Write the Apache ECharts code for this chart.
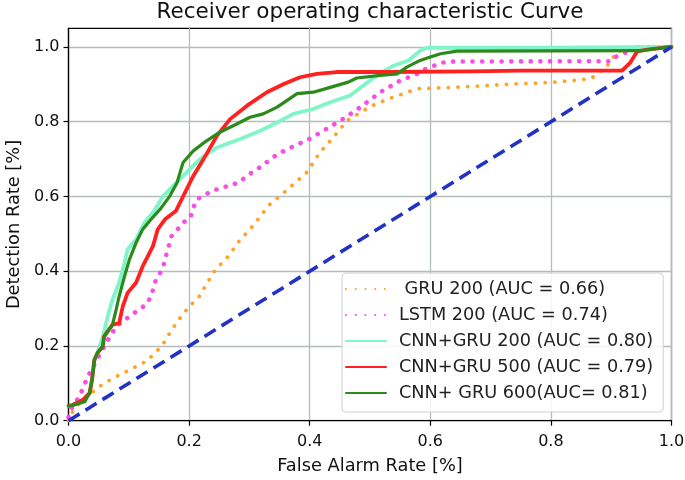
<!DOCTYPE html>
<html>
<head>
<meta charset="utf-8">
<script src="https://cdn.jsdelivr.net/npm/echarts@6/dist/echarts.min.js"></script>
<style>html,body{margin:0;padding:0;background:#fff;}#c{width:685px;height:480px;}</style>
</head>
<body>
<div id="c"></div>
<script>
const titleText = 'Receiver operating characteristic Curve';
const xName = 'False Alarm Rate [%]';
const yName = 'Detection Rate [%]';
const tickValues = [0, 0.2, 0.4, 0.6, 0.8, 1.0];
const seriesNames = [' GRU 200 (AUC = 0.66)', 'LSTM 200 (AUC = 0.74)', 'CNN+GRU 200 (AUC = 0.80)', 'CNN+GRU 500 (AUC = 0.79)', 'CNN+ GRU 600(AUC= 0.81)'];

const gru200 = [[0,0],[0.005,0.02],[0.02,0.05],[0.05,0.09],[0.075,0.115],[0.1,0.135],[0.13,0.16],[0.155,0.2],[0.17,0.24],[0.185,0.275],[0.2,0.305],[0.217,0.333],[0.243,0.403],[0.265,0.44],[0.285,0.485],[0.3,0.51],[0.334,0.579],[0.357,0.61],[0.395,0.664],[0.417,0.718],[0.437,0.754],[0.462,0.803],[0.503,0.843],[0.534,0.863],[0.578,0.888],[0.64,0.892],[0.74,0.901],[0.8,0.905],[0.866,0.915],[0.877,0.928],[0.9,0.96],[0.907,0.985],[0.935,1.0],[1,1]];
const lstm200 = [[0,0.01],[0.004,0.03],[0.018,0.064],[0.032,0.118],[0.05,0.172],[0.065,0.215],[0.079,0.252],[0.101,0.279],[0.129,0.311],[0.137,0.333],[0.145,0.378],[0.156,0.405],[0.163,0.449],[0.171,0.494],[0.182,0.514],[0.19,0.53],[0.202,0.543],[0.207,0.57],[0.213,0.592],[0.238,0.615],[0.268,0.63],[0.282,0.637],[0.296,0.655],[0.321,0.682],[0.346,0.713],[0.373,0.734],[0.401,0.755],[0.429,0.782],[0.456,0.808],[0.484,0.839],[0.517,0.879],[0.55,0.91],[0.578,0.928],[0.592,0.941],[0.619,0.958],[0.639,0.961],[0.9,0.962],[0.907,0.973],[0.932,0.99],[0.962,1.0],[1,1]];
const cnnGru200 = [[0,0.04],[0.007,0.042],[0.024,0.056],[0.035,0.074],[0.039,0.109],[0.043,0.163],[0.048,0.181],[0.057,0.225],[0.065,0.279],[0.073,0.324],[0.084,0.369],[0.093,0.423],[0.098,0.458],[0.112,0.485],[0.126,0.53],[0.142,0.561],[0.157,0.601],[0.19,0.655],[0.218,0.7],[0.246,0.731],[0.285,0.754],[0.318,0.776],[0.346,0.798],[0.373,0.821],[0.406,0.834],[0.434,0.852],[0.467,0.87],[0.489,0.897],[0.511,0.924],[0.539,0.95],[0.564,0.964],[0.583,0.99],[0.595,0.998],[0.8,0.998],[1,1]];
const cnnGru500 = [[0,0.04],[0.007,0.042],[0.024,0.056],[0.035,0.074],[0.039,0.109],[0.043,0.163],[0.048,0.181],[0.057,0.199],[0.059,0.225],[0.065,0.239],[0.073,0.257],[0.084,0.261],[0.09,0.306],[0.098,0.342],[0.112,0.369],[0.123,0.413],[0.14,0.467],[0.148,0.512],[0.16,0.539],[0.178,0.561],[0.193,0.61],[0.207,0.655],[0.224,0.7],[0.246,0.762],[0.268,0.807],[0.296,0.843],[0.329,0.879],[0.357,0.901],[0.384,0.919],[0.412,0.928],[0.445,0.933],[0.528,0.933],[0.666,0.935],[0.75,0.937],[0.918,0.937],[0.932,0.959],[0.943,0.988],[0.96,0.993],[1,1]];
const cnnGru600 = [[0,0.04],[0.005,0.04],[0.027,0.051],[0.035,0.074],[0.039,0.109],[0.043,0.163],[0.048,0.181],[0.057,0.199],[0.059,0.225],[0.065,0.239],[0.073,0.257],[0.079,0.297],[0.084,0.333],[0.093,0.387],[0.101,0.431],[0.112,0.476],[0.123,0.512],[0.137,0.539],[0.152,0.566],[0.168,0.601],[0.18,0.637],[0.19,0.691],[0.207,0.722],[0.229,0.749],[0.251,0.772],[0.279,0.794],[0.301,0.812],[0.323,0.821],[0.346,0.839],[0.379,0.875],[0.406,0.879],[0.434,0.892],[0.464,0.906],[0.478,0.917],[0.517,0.924],[0.545,0.928],[0.561,0.946],[0.583,0.964],[0.6,0.973],[0.617,0.982],[0.644,0.989],[0.95,0.99],[0.993,1.0],[1,1]];
const chance = [[0,0],[1,1]];

const FONT = 'DejaVu Sans';
const chart = echarts.init(document.getElementById('c'), null, {renderer: 'canvas'});

function lineSeries(name, data, color, width, dotted, z) {
  return {
    name: name, type: 'line', data: data, symbol: 'none', z: z,
    lineStyle: dotted
      ? {color: color, width: width, type: [0.1, 9.6], cap: 'round'}
      : {color: color, width: width, cap: 'round', join: 'round'},
    itemStyle: {color: color},
    emphasis: {disabled: true},
    animation: false
  };
}

const axisCommon = {
  type: 'value', min: 0, interval: 0.2,
  axisLine: {show: true, lineStyle: {color: '#000', width: 1.2}},
  axisTick: {show: true, inside: false, length: 5, lineStyle: {color: '#000', width: 1.2}, customValues: tickValues},
  axisLabel: {color: '#111', fontFamily: FONT, fontSize: 16, customValues: tickValues, formatter: v => v.toFixed(1)},
  splitLine: {show: true, lineStyle: {color: '#b4bcbc', width: 1.3}},
  nameLocation: 'middle',
  nameMoveOverlap: false,
  nameTextStyle: {color: '#111', fontFamily: FONT, fontSize: 17.8}
};

chart.setOption({
  animation: false,
  backgroundColor: '#fff',
  title: {
    text: titleText, left: 370, top: 1, textAlign: 'center', padding: 0,
    textStyle: {color: '#111', fontFamily: FONT, fontSize: 21.5, fontWeight: 'normal'}
  },
  grid: {left: 68.5, right: 13.5, top: 28.3, bottom: 59.3, show: true, borderColor: '#000', borderWidth: 1.2, containLabel: false, outerBoundsMode: 'none'},
  xAxis: Object.assign({}, axisCommon, {max: 1, name: xName, nameGap: 37,
    axisLabel: Object.assign({}, axisCommon.axisLabel, {margin: 13})}),
  yAxis: Object.assign({}, axisCommon, {max: 1.05, name: yName, nameGap: 45,
    axisLabel: Object.assign({}, axisCommon.axisLabel, {margin: 9})}),
  legend: {
    orient: 'vertical', left: 342, top: 273,
    data: seriesNames,
    itemWidth: 40, itemHeight: 14, itemGap: 6,
    padding: [6, 10, 9, 3],
    backgroundColor: 'rgba(255,255,255,0.85)',
    borderColor: '#d0d0d0', borderWidth: 1, borderRadius: 4,
    itemStyle: {opacity: 0},
    textStyle: {color: '#222', fontFamily: FONT, fontSize: 17.7, lineHeight: 20, padding: [0, 0, 0, 8]},
    selectedMode: false
  },
  series: [
    lineSeries(seriesNames[0], gru200, '#ffa32a', 3.8, true, 2),
    lineSeries(seriesNames[1], lstm200, '#f74ee6', 4.6, true, 3),
    lineSeries(seriesNames[2], cnnGru200, '#7ff5c8', 3.8, false, 4),
    lineSeries(seriesNames[3], cnnGru500, '#ff2020', 3.8, false, 5),
    lineSeries(seriesNames[4], cnnGru600, '#2a8a1a', 3.2, false, 6),
    {
      name: 'chance', type: 'line', data: chance, symbol: 'none', z: 7,
      lineStyle: {color: '#2233c4', width: 3.6, type: [13, 7]},
      emphasis: {disabled: true}, animation: false
    }
  ]
});
</script>
</body>
</html>
